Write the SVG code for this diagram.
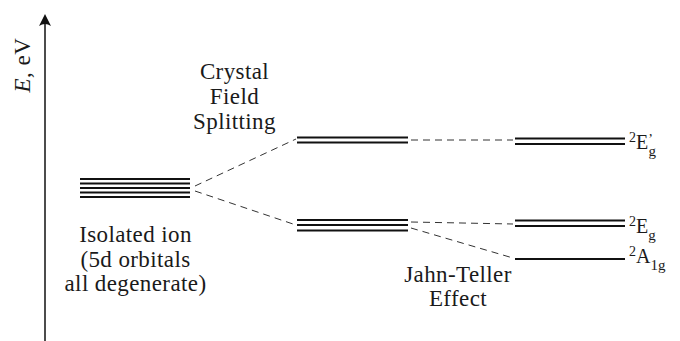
<svg xmlns="http://www.w3.org/2000/svg" width="680" height="341" viewBox="0 0 680 341">
<style>
.t{font-family:"Liberation Serif","Times New Roman",serif;font-size:23px;letter-spacing:0.4px;fill:#1a1a1a;text-anchor:middle}
.lb{font-family:"Liberation Serif","Times New Roman",serif;fill:#1a1a1a}
.lv{stroke:#111;stroke-width:2.2;fill:none}
.d{stroke:#333;stroke-width:1;stroke-dasharray:7 5;fill:none}
</style>
<rect width="680" height="341" fill="#fff"/>
<g id="axis">
<line x1="45" y1="341" x2="45" y2="20" stroke="#111" stroke-width="1.5"/>
<path d="M45,14 L51,26 Q45,22 39,26 Z" fill="#111"/>
<text class="lb" font-size="23" letter-spacing="0.5" text-anchor="middle" transform="translate(30,65) rotate(-90)"><tspan font-style="italic">E</tspan>, eV</text>
</g>
<g id="connectors">
<line class="d" x1="195" y1="186" x2="296" y2="139"/>
<line class="d" x1="195" y1="191" x2="296" y2="225"/>
<line class="d" x1="411" y1="140" x2="513" y2="140"/>
<line class="d" x1="411" y1="222" x2="513" y2="224"/>
<line class="d" x1="411" y1="228" x2="513" y2="258"/>
</g>
<g id="isolated">
<line class="lv" x1="80" y1="179" x2="190" y2="179"/>
<line class="lv" x1="80" y1="183.5" x2="190" y2="183.5"/>
<line class="lv" x1="80" y1="188" x2="190" y2="188"/>
<line class="lv" x1="80" y1="192.5" x2="190" y2="192.5"/>
<line class="lv" x1="80" y1="197" x2="190" y2="197"/>
<text class="t" x="135.5" y="242">Isolated ion</text>
<text class="t" x="135.5" y="266.5">(5d orbitals</text>
<text class="t" x="135.5" y="291">all degenerate)</text>
</g>
<g id="cf-label">
<text class="t" x="234.5" y="79">Crystal</text>
<text class="t" x="234.5" y="104">Field</text>
<text class="t" x="234.5" y="129">Splitting</text>
</g>
<g id="cf-upper">
<line class="lv" x1="297" y1="137.5" x2="408" y2="137.5"/>
<line class="lv" x1="297" y1="142.5" x2="408" y2="142.5"/>
</g>
<g id="cf-lower">
<line class="lv" x1="297" y1="220" x2="408" y2="220"/>
<line class="lv" x1="297" y1="225" x2="408" y2="225"/>
<line class="lv" x1="297" y1="230.5" x2="408" y2="230.5"/>
</g>
<g id="jt-label">
<text class="t" x="458" y="282">Jahn-Teller</text>
<text class="t" x="458" y="306">Effect</text>
</g>
<g id="Eg-prime">
<line class="lv" x1="515" y1="138.5" x2="625" y2="138.5"/>
<line class="lv" x1="515" y1="144" x2="625" y2="144"/>
<text class="lb" x="629" y="149" font-size="20"><tspan font-size="14" dy="-7">2</tspan><tspan dy="7">E</tspan><tspan font-size="14" dy="-5">’</tspan><tspan font-size="15" dx="-4.5" dy="12">g</tspan></text>
</g>
<g id="Eg">
<line class="lv" x1="515" y1="220.5" x2="625" y2="220.5"/>
<line class="lv" x1="515" y1="226" x2="625" y2="226"/>
<text class="lb" x="629" y="233" font-size="20"><tspan font-size="14" dy="-7">2</tspan><tspan dy="7">E</tspan><tspan font-size="15" dy="7">g</tspan></text>
</g>
<g id="A1g">
<line class="lv" x1="515" y1="259" x2="625" y2="259"/>
<text class="lb" x="629" y="263" font-size="20"><tspan font-size="14" dy="-7">2</tspan><tspan dy="7">A</tspan><tspan font-size="15" dy="7">1g</tspan></text>
</g>
</svg>
